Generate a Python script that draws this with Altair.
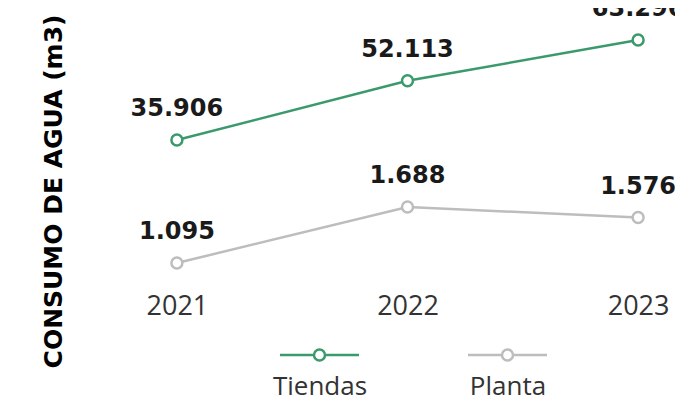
import altair as alt
import pandas as pd

years = ["2021", "2022", "2023"]
series_names = ["Tiendas", "Planta"]
tiendas = [35906, 52113, 63296]
planta = [1095, 1688, 1576]

green = "#3a9a6c"
gray = "#bdbdbd"

def fmt(v):
    return f"{v:,}".replace(",", ".")

rows = []
for y, v in zip(years, tiendas):
    rows.append({"year": y, "serie": "Tiendas", "value": v, "label": fmt(v)})
df_t = pd.DataFrame(rows)
rows = []
for y, v in zip(years, planta):
    rows.append({"year": y, "serie": "Planta", "value": v, "label": fmt(v)})
df_p = pd.DataFrame(rows)

x_enc = alt.X("year:O", sort=years,
              scale=alt.Scale(type="point", padding=0.16),
              axis=alt.Axis(title=None, domain=False, ticks=False, tickSize=0,
                            grid=False, labelAngle=0, labelPadding=21,
                            labelBaseline="middle", labelFontSize=27,
                            labelFont="Open Sans", labelColor="#333333"))

sym_path = ("M-5.4,-6.4L1.4,-6.4M3.6,-6.4L10.4,-6.4"
            "M3.6,-6.4A1.1,1.1,0,1,1,1.4,-6.4A1.1,1.1,0,1,1,3.6,-6.4Z")

color_enc = alt.Color("serie:N",
                      scale=alt.Scale(domain=series_names, range=[green, gray]),
                      legend=alt.Legend(
                          title=None, orient="none", direction="horizontal",
                          legendX=154, legendY=354, padding=0,
                          symbolType=sym_path,
                          symbolSize=100, symbolStrokeWidth=2.5,
                          labelOffset=0, labelAlign="center",
                          labelBaseline="middle", labelFontSize=26,
                          labelFont="Open Sans", labelColor="#333333",
                          columnPadding=95, gridAlign="all"))

def series_layer(df, domain, axis):
    y_enc = alt.Y("value:Q", scale=alt.Scale(domain=domain, nice=False, zero=False),
                  axis=axis)
    base = alt.Chart(df).encode(x=x_enc, y=y_enc)
    line = base.mark_line(strokeWidth=2.5).encode(color=color_enc)
    pts = base.mark_point(filled=False, fill="white", size=120, strokeWidth=2.5,
                          opacity=1).encode(color=color_enc)
    txt = base.mark_text(dy=-31, font="DejaVu Sans", fontWeight="bold",
                         fontSize=24, color="#1a1a1a").encode(text="label:N")
    return alt.layer(line, pts, txt)

axis_t = alt.Axis(title="CONSUMO DE AGUA (m3)", labels=False, ticks=False,
                  domain=False, grid=False, titleFont="DejaVu Sans",
                  titleFontWeight="bold", titleFontSize=25, titleColor="#000000",
                  titleAngle=-90, titleX=-87, titleY=171,
                  titleAlign="center", titleBaseline="middle")

layer_t = series_layer(df_t, [-3809, 68774], axis_t)
layer_p = series_layer(df_p, [862, 3668], None)

chart = alt.layer(layer_t, layer_p).resolve_scale(y="independent").properties(
    width=535, height=265,
    background="white",
    autosize=alt.AutoSizeParams(type="none"),
    padding={"left": 132, "top": 12, "right": 0, "bottom": 116},
).configure_view(strokeWidth=0, stroke=None)

chart.save("out.html", embed_options={"renderer": "svg", "actions": False})
